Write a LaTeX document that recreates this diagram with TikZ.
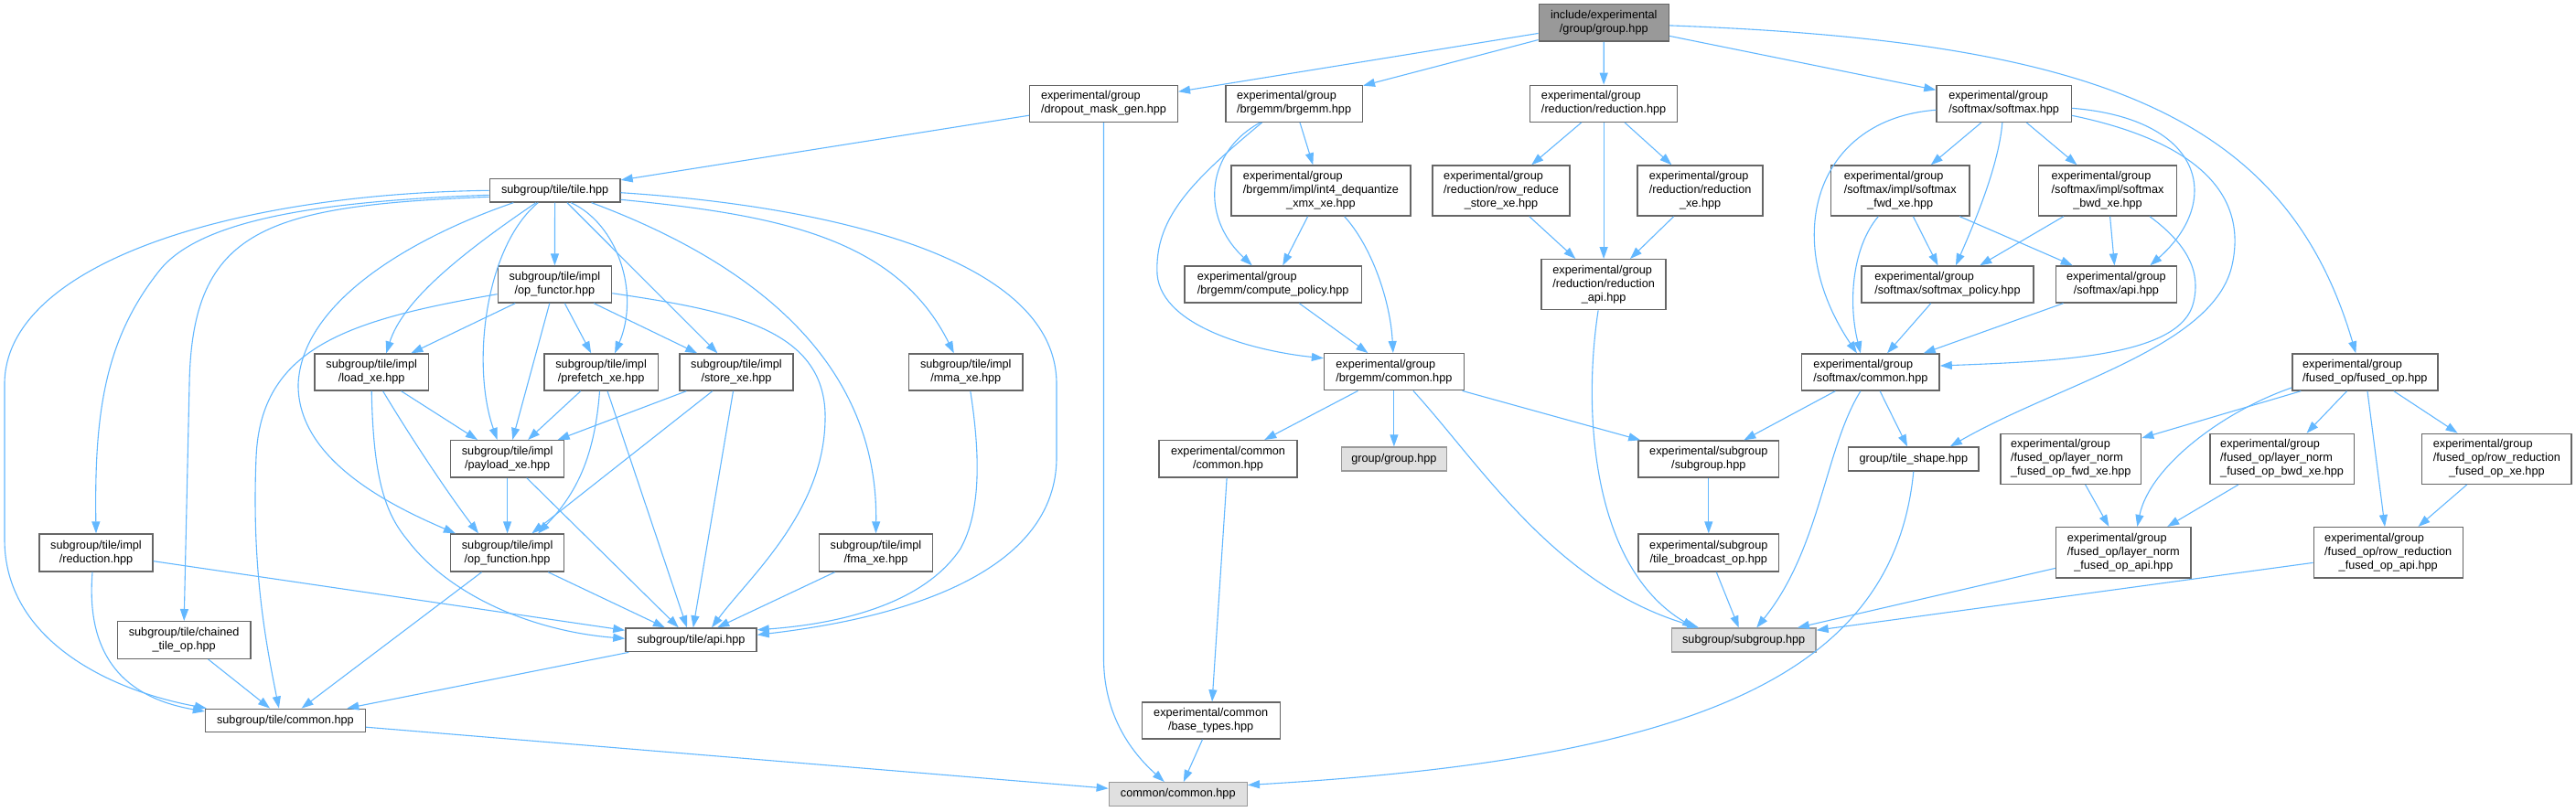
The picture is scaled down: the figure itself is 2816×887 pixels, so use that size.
\documentclass[tikz,border=0pt]{standalone}
\usepackage{fontspec}
\setmainfont{Liberation Sans}
\usetikzlibrary{arrows.meta}
\definecolor{edgec}{HTML}{63B8FF}
\definecolor{bordc}{HTML}{666666}
\definecolor{rootfill}{HTML}{999999}
\definecolor{leafbord}{HTML}{999999}
\definecolor{leaffill}{HTML}{E0E0E0}
\newcommand\twol[2]{\begin{tabular}{@{}l@{}}#1\\\multicolumn{1}{@{}c@{}}{#2}\end{tabular}}
\newcommand\threel[3]{\begin{tabular}{@{}l@{}}#1\\#2\\\multicolumn{1}{@{}c@{}}{#3}\end{tabular}}
\begin{document}
\begin{tikzpicture}[x=1pt,y=-1pt,
  nbox/.style={draw=bordc, fill=white, line width=1.4pt, inner sep=0pt, text=black,
    font=\fontsize{12.7}{15}\selectfont},
  rootbox/.style={nbox, fill=rootfill},
  leafbox/.style={nbox, draw=leafbord, fill=leaffill},
  e/.style={draw=edgec, line width=1.1pt, -{Triangle[length=13pt,width=9pt]}}]
\path[use as bounding box, fill=white] (0,0) rectangle (2816,887);

% ---------- nodes ----------
\node[rootbox, minimum width=142pt, minimum height=40.3pt] (root) at (1753.3,24.9) {\twol{include/experimental}{/group/group.hpp}};
\node[nbox, minimum width=161.7pt, minimum height=40pt] (dropout) at (1206.5,113.3) {\twol{experimental/group}{/dropout\_mask\_gen.hpp}};
\node[nbox, minimum width=149.5pt, minimum height=40pt] (brgemm) at (1414.6,113.3) {\twol{experimental/group}{/brgemm/brgemm.hpp}};
\node[nbox, minimum width=161.2pt, minimum height=40pt] (reduction) at (1753.1,113.3) {\twol{experimental/group}{/reduction/reduction.hpp}};
\node[nbox, minimum width=147.3pt, minimum height=40pt] (softmax) at (2190.6,113.3) {\twol{experimental/group}{/softmax/softmax.hpp}};
\node[nbox, minimum width=195.7pt, minimum height=55pt] (int4) at (1444,208.5) {\threel{experimental/group}{/brgemm/impl/int4\_dequantize}{\_xmx\_xe.hpp}};
\node[nbox, minimum width=150pt, minimum height=55pt] (rowreduce) at (1641,208.5) {\threel{experimental/group}{/reduction/row\_reduce}{\_store\_xe.hpp}};
\node[nbox, minimum width=137pt, minimum height=55pt] (reductionxe) at (1858.6,208.5) {\threel{experimental/group}{/reduction/reduction}{\_xe.hpp}};
\node[nbox, minimum width=151.3pt, minimum height=55pt] (fwd) at (2077.2,208.5) {\threel{experimental/group}{/softmax/impl/softmax}{\_fwd\_xe.hpp}};
\node[nbox, minimum width=151.3pt, minimum height=55pt] (bwd) at (2304,208.5) {\threel{experimental/group}{/softmax/impl/softmax}{\_bwd\_xe.hpp}};
\node[nbox, minimum width=142.8pt, minimum height=25.3pt] (tile) at (606.6,208.3) {subgroup/tile/tile.hpp};
\node[nbox, minimum width=193.5pt, minimum height=40pt] (computepolicy) at (1391.7,311) {\twol{experimental/group}{/brgemm/compute\_policy.hpp}};
\node[nbox, minimum width=136pt, minimum height=55pt] (reductionapi) at (1753.1,311.2) {\threel{experimental/group}{/reduction/reduction}{\_api.hpp}};
\node[nbox, minimum width=188pt, minimum height=40pt] (smpolicy) at (2128.9,311) {\twol{experimental/group}{/softmax/softmax\_policy.hpp}};
\node[nbox, minimum width=132.4pt, minimum height=40pt] (smapi) at (2313.4,311) {\twol{experimental/group}{/softmax/api.hpp}};
\node[nbox, minimum width=124.4pt, minimum height=40pt] (opfunctor) at (606.4,311) {\twol{subgroup/tile/impl}{/op\_functor.hpp}};
\node[nbox, minimum width=152.7pt, minimum height=40pt] (brgcommon) at (1523.9,406.7) {\twol{experimental/group}{/brgemm/common.hpp}};
\node[nbox, minimum width=150.4pt, minimum height=40pt] (smcommon) at (2044.9,407) {\twol{experimental/group}{/softmax/common.hpp}};
\node[nbox, minimum width=159pt, minimum height=40pt] (fusedop) at (2585.3,407) {\twol{experimental/group}{/fused\_op/fused\_op.hpp}};
\node[nbox, minimum width=124.3pt, minimum height=40pt] (loadxe) at (406.2,407) {\twol{subgroup/tile/impl}{/load\_xe.hpp}};
\node[nbox, minimum width=124.3pt, minimum height=40pt] (prefetch) at (657.1,407) {\twol{subgroup/tile/impl}{/prefetch\_xe.hpp}};
\node[nbox, minimum width=124pt, minimum height=40pt] (store) at (805,407) {\twol{subgroup/tile/impl}{/store\_xe.hpp}};
\node[nbox, minimum width=124.4pt, minimum height=40pt] (mma) at (1055.8,407) {\twol{subgroup/tile/impl}{/mma\_xe.hpp}};
\node[leafbox, minimum width=115pt, minimum height=26pt] (groupgroup) at (1523.9,502) {group/group.hpp};
\node[nbox, minimum width=150.8pt, minimum height=40.3pt] (expcommon) at (1342.5,501.8) {\twol{experimental/common}{/common.hpp}};
\node[nbox, minimum width=153.6pt, minimum height=40pt] (subgrouphpp) at (1867.8,502) {\twol{experimental/subgroup}{/subgroup.hpp}};
\node[nbox, minimum width=142.7pt, minimum height=26pt] (tileshape) at (2091.8,502) {group/tile\_shape.hpp};
\node[nbox, minimum width=153.6pt, minimum height=55pt] (lnfwd) at (2263.8,501.8) {\threel{experimental/group}{/fused\_op/layer\_norm}{\_fused\_op\_fwd\_xe.hpp}};
\node[nbox, minimum width=157.2pt, minimum height=55pt] (lnbwd) at (2494.6,501.8) {\threel{experimental/group}{/fused\_op/layer\_norm}{\_fused\_op\_bwd\_xe.hpp}};
\node[nbox, minimum width=163.5pt, minimum height=55pt] (rrxe) at (2729.4,501.8) {\threel{experimental/group}{/fused\_op/row\_reduction}{\_fused\_op\_xe.hpp}};
\node[nbox, minimum width=124pt, minimum height=40.3pt] (payload) at (554.6,501.8) {\twol{subgroup/tile/impl}{/payload\_xe.hpp}};
\node[nbox, minimum width=124pt, minimum height=41pt] (opfunction) at (554.6,604.5) {\twol{subgroup/tile/impl}{/op\_function.hpp}};
\node[nbox, minimum width=124pt, minimum height=41pt] (reductionimpl) at (105,604.5) {\twol{subgroup/tile/impl}{/reduction.hpp}};
\node[nbox, minimum width=124.4pt, minimum height=41pt] (fma) at (957.5,604.5) {\twol{subgroup/tile/impl}{/fma\_xe.hpp}};
\node[nbox, minimum width=153.6pt, minimum height=41pt] (tilebroadcast) at (1867.8,604.5) {\twol{experimental/subgroup}{/tile\_broadcast\_op.hpp}};
\node[nbox, minimum width=147.3pt, minimum height=55.3pt] (lnapi) at (2321.3,604.3) {\threel{experimental/group}{/fused\_op/layer\_norm}{\_fused\_op\_api.hpp}};
\node[nbox, minimum width=163pt, minimum height=55.3pt] (rrapi) at (2610.7,604.3) {\threel{experimental/group}{/fused\_op/row\_reduction}{\_fused\_op\_api.hpp}};
\node[nbox, minimum width=145.5pt, minimum height=40.6pt] (chained) at (201.2,700) {\twol{subgroup/tile/chained}{\_tile\_op.hpp}};
\node[nbox, minimum width=143.1pt, minimum height=25.7pt] (tileapi) at (755.5,699.8) {subgroup/tile/api.hpp};
\node[leafbox, minimum width=157.6pt, minimum height=25.7pt] (subgroupsg) at (1906.2,700) {subgroup/subgroup.hpp};
\node[nbox, minimum width=174.7pt, minimum height=25.4pt] (tilecommon) at (311.9,788) {subgroup/tile/common.hpp};
\node[nbox, minimum width=151pt, minimum height=40pt] (basetypes) at (1323.7,788) {\twol{experimental/common}{/base\_types.hpp}};
\node[leafbox, minimum width=151pt, minimum height=25.6pt] (commoncommon) at (1287.8,868.5) {common/common.hpp};

% ---------- edges: right part ----------
\draw[e] (root) -- (dropout);
\draw[e] (root) -- (brgemm);
\draw[e] (root) -- (reduction);
\draw[e] (root) -- (softmax);
\draw[e] ([yshift=-3pt]root.east) .. controls (2300,45) and (2500,130) .. ([xshift=-10pt]fusedop.north);
\draw[e] (dropout) -- (tile);
\draw[e] (dropout.south) -- (1206.5,720) .. controls (1206.5,790) and (1245,830) .. ([xshift=-15pt]commoncommon.north);
\draw[e] (brgemm) -- (int4);
\draw[e] ([xshift=-37pt]brgemm.south) .. controls (1320,165) and (1310,235) .. ([xshift=-23pt]computepolicy.north);
\draw[e] ([xshift=-35pt]brgemm.south) .. controls (1300,200) and (1262,240) .. (1265,300) .. controls (1270,360) and (1380,385) .. ([yshift=15pt]brgcommon.west);
\draw[e] (int4) -- (computepolicy);
\draw[e] (int4) .. controls (1500,270) and (1520,330) .. (brgcommon);
\draw[e] (computepolicy) -- (brgcommon);
\draw[e] (brgcommon) -- (expcommon);
\draw[e] (brgcommon) -- (groupgroup);
\draw[e] (brgcommon) -- (subgrouphpp);
\draw[e] ([xshift=21pt]brgcommon.south) .. controls (1620,510) and (1700,640) .. ([xshift=-49pt]subgroupsg.north);
\draw[e] (reduction) -- (rowreduce);
\draw[e] (reduction) -- (reductionapi);
\draw[e] (reduction) -- (reductionxe);
\draw[e] (rowreduce) -- (reductionapi);
\draw[e] (reductionxe) -- (reductionapi);
\draw[e] ([xshift=-6pt]reductionapi.south) .. controls (1730,450) and (1740,620) .. ([xshift=-54pt]subgroupsg.north);
\draw[e] (softmax) -- (fwd);
\draw[e] (softmax) -- (bwd);
\draw[e] (softmax) .. controls (2185,180) and (2160,240) .. (smpolicy);
\draw[e] ([yshift=-5pt]softmax.east) .. controls (2410,130) and (2430,220) .. ([xshift=37pt]smapi.north);
\draw[e] ([yshift=-7pt]softmax.west) .. controls (1985,130) and (1945,260) .. ([xshift=-15pt]smcommon.north);
\draw[e] ([yshift=-13pt]softmax.east) .. controls (2380,150) and (2460,200) .. (2440,290) .. controls (2420,380) and (2250,420) .. ([xshift=40pt]tileshape.north);
\draw[e] (fwd) -- (smpolicy);
\draw[e] (fwd) -- (smapi);
\draw[e] (fwd) .. controls (2025,270) and (2020,330) .. ([xshift=-11pt]smcommon.north);
\draw[e] (bwd) -- (smpolicy);
\draw[e] (bwd) -- (smapi);
\draw[e] ([xshift=46pt]bwd.south) .. controls (2395,270) and (2405,300) .. (2398,330) .. controls (2385,390) and (2250,395) .. ([yshift=7pt]smcommon.east);
\draw[e] (smpolicy) -- (smcommon);
\draw[e] (smapi) -- (smcommon);
\draw[e] (smcommon) -- (subgrouphpp);
\draw[e] (smcommon) -- (tileshape);
\draw[e] ([xshift=-11pt]smcommon.south) .. controls (1995,490) and (1990,600) .. ([xshift=14pt]subgroupsg.north);
\draw[e] (tileshape.south) .. controls (2070,740) and (1850,830) .. ([yshift=10pt]commoncommon.east);
\draw[e] (subgrouphpp) -- (tilebroadcast);
\draw[e] (tilebroadcast) -- (subgroupsg);
\draw[e] (fusedop) -- (lnfwd);
\draw[e] ([yshift=-17pt]fusedop.west) .. controls (2430,450) and (2350,510) .. ([xshift=15pt]lnapi.north);
\draw[e] (fusedop) -- (lnbwd);
\draw[e] (fusedop) -- (rrapi);
\draw[e] (fusedop) -- (rrxe);
\draw[e] (lnfwd) -- (lnapi);
\draw[e] (lnbwd) -- (lnapi);
\draw[e] (rrxe) -- (rrapi);
\draw[e] (lnapi) -- (subgroupsg);
\draw[e] (rrapi) -- (subgroupsg);
\draw[e] (expcommon) -- (basetypes);
\draw[e] (basetypes) -- (commoncommon);
\draw[e] (tilecommon) -- (commoncommon);

% ---------- edges: tile cluster ----------
\draw[e] (tile) -- (opfunctor);
\draw[e] (tile.west) .. controls (250,212) and (5,290) .. (5,420) -- (5,590) .. controls (5,700) and (120,755) .. ([xshift=2pt]tilecommon.north west);
\draw[e] ([yshift=-5pt]tile.west) .. controls (350,220) and (220,240) .. (175,295) .. controls (115,370) and (103,450) .. (reductionimpl.north);
\draw[e] ([yshift=-7pt]tile.west) .. controls (290,225) and (210,250) .. (207,420) -- (chained.north);
\draw[e] ([xshift=-45.3pt]tile.south) .. controls (450,260) and (330,330) .. (326,420) .. controls (325,500) and (420,550) .. ([xshift=6pt]opfunction.north west);
\draw[e] ([xshift=-20.6pt]tile.south) .. controls (500,280) and (440,330) .. ([xshift=16pt]loadxe.north);
\draw[e] ([xshift=-18.4pt]tile.south) .. controls (530,270) and (515,400) .. ([xshift=-11pt]payload.north);
\draw[e] ([xshift=17.6pt]tile.south) .. controls (675,245) and (700,320) .. ([xshift=15pt]prefetch.north);
\draw[e] (tile) -- (store);
\draw[e] ([xshift=40pt]tile.south) .. controls (830,290) and (960,400) .. (fma.north);
\draw[e] ([yshift=-10pt]tile.east) .. controls (850,235) and (980,260) .. ([xshift=-13pt]mma.north);
\draw[e] ([yshift=-2.4pt]tile.east) .. controls (900,225) and (1155,280) .. (1155,420) -- (1155,500) .. controls (1155,640) and (950,680) .. ([yshift=5.5pt]tileapi.east);
\draw[e] ([yshift=-10.7pt]opfunctor.west) .. controls (380,350) and (285,380) .. (280,500) .. controls (275,620) and (290,700) .. ([xshift=-7pt]tilecommon.north);
\draw[e] (opfunctor) -- (loadxe);
\draw[e] (opfunctor) -- (payload);
\draw[e] (opfunctor) -- (prefetch);
\draw[e] (opfunctor) -- (store);
\draw[e] ([yshift=-9.7pt]opfunctor.east) .. controls (800,340) and (905,360) .. (902,460) .. controls (900,560) and (820,630) .. ([xshift=22.5pt]tileapi.north);
\draw[e] (loadxe) -- (payload);
\draw[e] (loadxe) .. controls (450,480) and (490,540) .. ([xshift=-31.6pt]opfunction.north);
\draw[e] (loadxe.south) .. controls (408,520) and (420,560) .. (445,590) .. controls (490,650) and (580,690) .. ([yshift=1.5pt]tileapi.west);
\draw[e] (payload) -- (opfunction);
\draw[e] (payload) -- (tileapi);
\draw[e] (prefetch) -- (payload);
\draw[e] (prefetch) .. controls (650,500) and (630,540) .. ([xshift=33.6pt]opfunction.north);
\draw[e] (prefetch) -- (tileapi);
\draw[e] (store) -- (payload);
\draw[e] (store) -- (opfunction);
\draw[e] (store) -- (tileapi);
\draw[e] ([xshift=5pt]mma.south) .. controls (1072,500) and (1072,560) .. (1050,600) .. controls (1010,660) and (920,682) .. ([yshift=11pt]tileapi.east);
\draw[e] (fma) -- (tileapi);
\draw[e] (reductionimpl) -- (tileapi);
\draw[e] ([xshift=-4pt]reductionimpl.south) .. controls (95,700) and (120,760) .. ([yshift=10pt]tilecommon.west);
\draw[e] (chained) -- (tilecommon);
\draw[e] (opfunction) -- (tilecommon);
\draw[e] (opfunction) -- (tileapi);
\draw[e] (tileapi) -- (tilecommon);
\end{tikzpicture}
\end{document}
